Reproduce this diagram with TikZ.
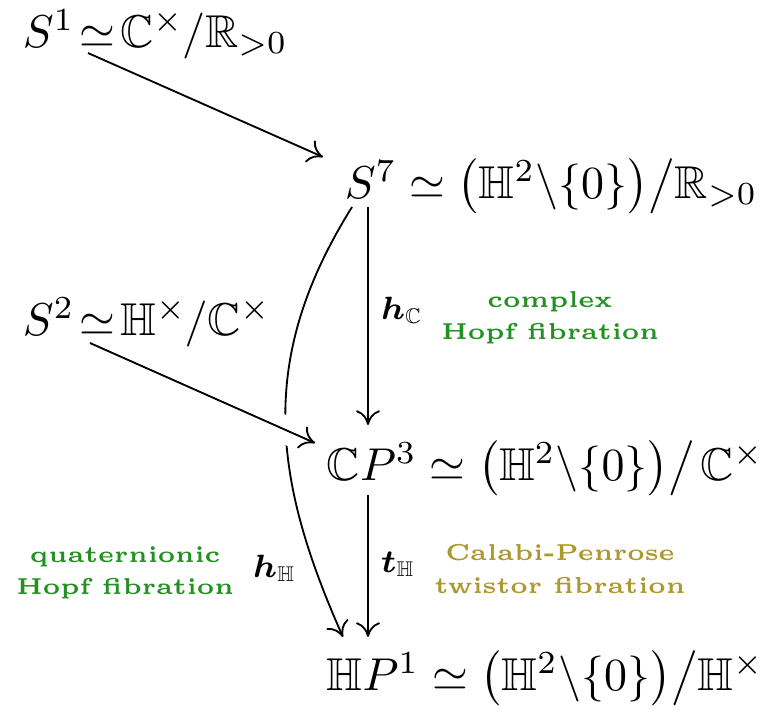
\documentclass[tikz,border=0pt]{standalone}
\usepackage{amsmath,amssymb}
\usetikzlibrary{arrows.meta,calc}
\definecolor{hopfgreen}{RGB}{34,145,34}
\definecolor{twistgold}{RGB}{172,152,44}
\begin{document}
\begin{tikzpicture}[x=0.2174pt,y=-0.2174pt,
  obj/.style={anchor=base west, inner sep=0pt, font=\fontsize{10}{12}\selectfont},
  cdarrow/.style={line width=0.4pt, -{Computer Modern Rightarrow[length=3.2pt,width=5.2pt]}},
  maplabel/.style={anchor=base west, inner sep=0pt, font=\fontsize{6.6}{8}\selectfont},
  fiblabel/.style={align=center, inner sep=0pt, font=\fontsize{5}{7}\selectfont\bfseries}]
\useasboundingbox (0,0) rectangle (775,709);
\node[obj] (s1) at (22,47) {$S^1 \mkern-3mu\simeq\mkern-3mu \mathbb{C}^\times \mkern-1mu/\mathbb{R}_{>0}$};
\node[obj] (s7) at (344,198) {$S^7 \simeq \big(\mathbb{H}^2 \backslash \{0\}\big) \big/ \mathbb{R}_{>0}$};
\node[obj] (s2) at (22,335) {$S^2 \mkern-3mu\simeq\mkern-3mu \mathbb{H}^\times \mkern-1mu/ \mathbb{C}^\times$};
\node[obj] (cp3) at (326,480) {$\mathbb{C}P^3 \simeq \big(\mathbb{H}^2 \backslash \{0\}\big) \big/ \mkern2mu \mathbb{C}^\times$};
\node[obj] (hp1) at (326,690) {$\mathbb{H}P^1 \simeq \big(\mathbb{H}^2 \backslash \{0\}\big) \big/ \mathbb{H}^\times$};
% connectors
\draw[cdarrow] ([shift={(66,6)}]s1.base west) -- ([shift={(-21,-41)}]s7.base west);
\draw[cdarrow] ([shift={(8,9)}]s7.base west) to[out=238,in=114,looseness=1.05] ([shift={(17,-53)}]hp1.base west);
\coordinate (s2a) at ([shift={(68,8)}]s2.base west);
\coordinate (cp3a) at ([shift={(-11,-37)}]cp3.base west);
\draw[white, line width=6pt] ($(s2a)!0.75!(cp3a)$) -- ($(s2a)!0.95!(cp3a)$);
\draw[cdarrow] (s2a) -- (cp3a);
\draw[cdarrow] ([shift={(24,9)}]s7.base west) -- ([shift={(42,-55)}]cp3.base west);
\draw[cdarrow] ([shift={(42,15)}]cp3.base west) -- ([shift={(42,-53)}]hp1.base west);
% labels
\node[maplabel] (lhc) at (380,319) {$\boldsymbol{h}_{\mathbb{C}}$};
\node[maplabel] (lth) at (380,572) {$\boldsymbol{t}_{\mathbb{H}}$};
\node[maplabel] (lhh) at (252,577) {$\boldsymbol{h}_{\mathbb{H}}$};
\node[fiblabel, text=hopfgreen] (cx) at (550,318) {complex\\Hopf fibration};
\node[fiblabel, text=hopfgreen] (qt) at (125,573) {quaternionic\\Hopf fibration};
\node[fiblabel, text=twistgold] (cp) at (560,569) {Calabi-Penrose\\twistor fibration};
\end{tikzpicture}
\end{document}
